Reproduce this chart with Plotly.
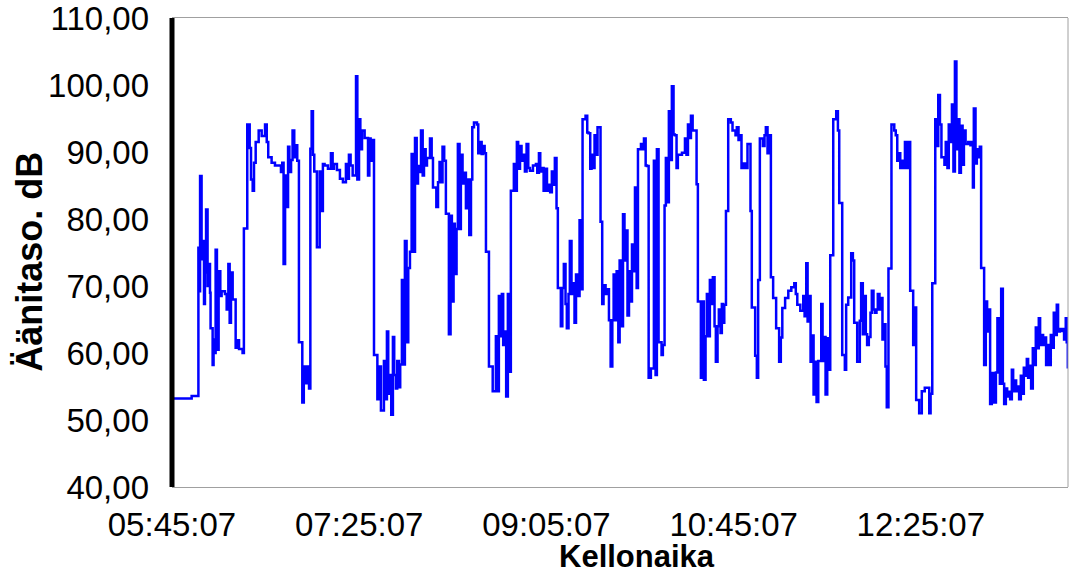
import pandas as pd
import plotly.graph_objects as go

# minutes after 05:45:07
minutes = [
    0, 10.5, 14.1, 14.6, 15.0, 15.8, 16.4, 17.1, 17.6, 18.2, 19.0, 19.6, 20.3, 20.6, 21.7, 22.2, 22.8, 23.3, 24.0, 24.9,
    25.8, 26.5, 28.3, 29.2, 30.1, 30.8, 31.5, 32.4, 34.0, 34.7, 35.8, 37.7, 38.4, 40.2, 41.5, 42.2, 43.1, 43.8, 44.7, 46.3,
    47.9, 49.7, 50.6, 51.4, 53.2, 55.0, 58.2, 58.9, 59.6, 60.4, 61.2, 62.0, 62.7, 63.6, 64.4, 65.3, 66.0, 66.9, 67.8, 69.6,
    70.4, 71.4, 72.3, 73.2, 73.9, 74.6, 75.3, 76.0, 77.4, 78.9, 79.9, 80.6, 81.5, 83.3, 84.9, 85.8, 86.5, 88.1, 89.7, 91.3,
    92.9, 93.6, 94.5, 95.4, 96.5, 98.3, 99.0, 99.9, 100.6, 101.5, 102.9, 104.7, 105.4, 106.1, 107.0, 107.9, 109.7, 110.5, 111.6, 113.2,
    113.9, 114.8, 115.5, 116.4, 117.1, 118.0, 118.7, 119.6, 120.3, 121.2, 121.9, 122.8, 123.5, 124.4, 125.3, 126.2, 127.1, 128.0, 128.9, 129.8,
    130.7, 131.4, 132.3, 133.0, 133.9, 134.6, 135.5, 136.2, 137.8, 138.7, 139.4, 141.2, 142.1, 142.9, 143.7, 144.5, 145.4, 146.3, 147.9, 148.8,
    149.5, 150.4, 151.1, 152.0, 152.7, 153.6, 154.3, 155.2, 156.1, 157.0, 157.9, 158.8, 159.7, 160.4, 161.3, 162.9, 163.6, 164.5, 165.4, 166.1,
    167.0, 167.7, 169.3, 171.3, 173.0, 173.9, 174.6, 175.5, 176.2, 176.9, 177.8, 178.5, 179.4, 180.2, 181.0, 182.6, 183.4, 184.2, 184.9, 185.9,
    186.7, 187.6, 188.5, 189.4, 190.3, 191.2, 192.8, 194.4, 195.1, 196.0, 196.7, 197.6, 198.5, 199.2, 200.3, 201.3, 202.0, 202.9, 203.8, 204.5,
    205.4, 206.1, 207.7, 208.5, 209.3, 210.2, 210.9, 211.8, 212.5, 213.4, 214.2, 215.0, 215.8, 216.8, 217.7, 218.4, 219.3, 220.9, 221.8, 222.5,
    223.4, 224.1, 225.0, 225.7, 226.6, 227.3, 228.9, 229.8, 230.5, 231.6, 232.7, 233.4, 234.3, 235.2, 235.9, 236.8, 237.5, 238.4, 239.1, 240.0,
    240.9, 241.7, 242.5, 243.3, 244.1, 245.0, 245.7, 246.5, 247.3, 248.2, 248.9, 250.5, 251.4, 252.1, 253.0, 253.7, 254.6, 255.8, 257.4, 258.3,
    259.0, 259.9, 261.5, 262.2, 263.1, 263.8, 264.7, 265.4, 266.3, 267.0, 267.9, 268.6, 269.5, 270.2, 272.4, 274.0, 274.8, 275.6, 276.4, 277.2,
    278.1, 280.2, 280.9, 282.5, 283.2, 284.1, 285.0, 285.7, 286.6, 287.3, 288.2, 288.9, 289.8, 290.5, 291.4, 292.1, 293.0, 293.7, 294.3, 295.0,
    295.9, 297.1, 298.5, 299.4, 301.0, 301.7, 302.6, 303.3, 304.2, 304.9, 306.2, 307.4, 309.0, 309.7, 311.5, 312.4, 313.1, 314.0, 315.6, 316.5,
    317.2, 318.1, 318.8, 319.9, 321.1, 322.7, 324.3, 325.2, 326.0, 327.5, 329.2, 330.8, 332.4, 333.2, 334.0, 335.6, 337.2, 337.9, 338.8, 339.5,
    340.4, 341.1, 342.0, 342.7, 343.6, 344.3, 345.2, 346.8, 347.5, 348.4, 349.1, 350.0, 350.7, 351.6, 353.2, 354.8, 355.7, 356.4, 358.0, 359.4,
    360.1, 361.2, 362.8, 363.7, 364.4, 366.0, 367.4, 368.1, 369.0, 369.7, 370.6, 371.3, 372.2, 373.1, 373.8, 374.7, 375.4, 376.3, 377.0, 377.9,
    378.6, 379.5, 380.2, 381.1, 381.8, 382.7, 384.3, 385.8, 386.6, 387.4, 388.2, 389.0, 389.9, 390.7, 391.5, 392.7, 393.6, 394.3, 395.9, 396.8,
    397.5, 399.1, 400.5, 402.1, 404.5, 405.2, 406.1, 407.7, 408.6, 409.3, 410.2, 411.0, 412.6, 413.3, 414.2, 414.9, 415.8, 416.6, 417.4, 418.2,
    419.0, 419.8, 420.6, 421.4, 422.3, 423.0, 423.9, 425.3, 426.5, 427.2, 427.8, 428.3, 429.2, 429.9, 430.8, 431.5, 432.2, 433.8, 434.7, 435.4,
    436.3, 437.0, 437.9, 438.8, 440.1, 440.9, 442.2, 442.9, 443.8, 444.5, 445.4, 446.1, 447.0, 447.7, 448.6, 449.3, 450.2, 450.9, 451.8, 452.5,
    453.4, 454.1, 455.0, 455.7, 456.6, 457.3, 458.2, 458.9, 459.8, 460.5, 461.4, 462.1, 463.0, 463.7, 464.6, 465.3, 466.2, 466.9, 467.8, 468.5,
    469.4, 470.1, 471.0, 471.7, 472.6, 473.3, 474.2, 474.9, 475.8, 476.5, 477.4, 477.9, 478.5,
]

db = [
    53.2, 53.6, 75.7, 69.2, 86.4, 74.0, 76.7, 67.3, 72.0, 81.4, 70.0, 73.3, 69.0, 63.7, 58.2, 62.0, 60.0, 75.4, 60.5, 72.2,
    68.5, 69.2, 68.8, 66.5, 73.3, 64.5, 72.0, 68.0, 60.8, 61.9, 60.6, 60.0, 78.6, 94.1, 90.6, 85.9, 84.2, 88.4, 91.5, 93.2,
    92.4, 94.1, 91.5, 89.2, 88.4, 88.0, 87.0, 88.4, 73.3, 86.5, 81.8, 90.8, 87.0, 88.8, 93.2, 89.2, 91.0, 88.7, 61.6, 52.6,
    58.0, 55.5, 58.0, 54.7, 90.5, 96.1, 89.6, 87.1, 75.8, 87.1, 81.2, 88.2, 88.0, 87.5, 89.8, 87.5, 88.2, 87.3, 86.0, 85.5,
    88.2, 86.0, 89.6, 88.0, 86.5, 101.3, 85.9, 94.9, 90.4, 93.2, 92.1, 86.5, 92.0, 88.7, 91.8, 59.7, 53.1, 58.0, 51.4, 58.8,
    53.1, 63.2, 53.9, 56.7, 50.8, 62.4, 56.7, 54.7, 58.8, 54.9, 58.3, 70.9, 58.3, 76.7, 61.6, 72.7, 75.1, 89.7, 75.1, 92.1,
    85.3, 87.9, 87.0, 93.2, 86.5, 90.4, 88.0, 89.1, 92.0, 89.1, 84.7, 81.8, 85.5, 88.5, 85.5, 90.8, 88.7, 80.8, 62.8, 80.5,
    67.7, 79.3, 71.8, 78.5, 91.2, 78.5, 89.6, 85.3, 86.9, 81.6, 85.9, 77.6, 85.9, 93.7, 94.4, 94.1, 89.8, 91.5, 89.7, 90.9,
    89.8, 75.1, 58.0, 54.3, 62.5, 54.3, 68.5, 62.5, 68.8, 61.2, 63.2, 53.5, 68.8, 57.2, 84.2, 88.2, 84.2, 91.5, 87.5, 90.9,
    88.7, 89.6, 87.1, 91.2, 87.6, 87.2, 88.0, 88.2, 86.9, 89.8, 87.1, 87.6, 84.2, 87.5, 84.2, 85.1, 84.0, 87.1, 85.1, 89.1,
    81.6, 69.7, 64.0, 69.7, 73.3, 67.3, 63.7, 68.8, 76.7, 68.8, 70.4, 64.5, 71.7, 68.5, 79.8, 69.5, 94.9, 95.4, 92.9, 92.8,
    87.5, 89.6, 87.6, 92.5, 89.6, 93.7, 79.6, 67.3, 70.1, 68.8, 69.5, 64.9, 58.0, 64.9, 71.7, 64.9, 72.2, 61.6, 73.8, 64.0,
    80.7, 73.8, 78.3, 65.6, 72.2, 67.7, 76.2, 72.2, 84.7, 69.7, 90.4, 91.2, 90.4, 92.0, 88.0, 87.9, 56.3, 57.7, 88.7, 56.7,
    90.4, 61.6, 59.7, 61.2, 82.0, 89.1, 82.5, 96.1, 88.8, 99.8, 92.6, 92.5, 87.6, 89.6, 89.9, 92.0, 89.6, 94.1, 92.1, 95.4,
    93.2, 85.2, 67.7, 56.3, 67.7, 56.0, 62.5, 68.8, 62.5, 70.9, 67.3, 71.3, 64.0, 58.7, 64.0, 66.5, 63.0, 67.3, 64.5, 67.2,
    81.2, 94.9, 94.4, 93.2, 92.5, 93.7, 91.8, 92.5, 87.6, 88.3, 87.6, 91.2, 81.2, 66.8, 59.6, 56.3, 70.9, 92.0, 90.9, 92.5,
    93.7, 89.8, 92.5, 71.3, 68.2, 63.7, 58.7, 62.3, 66.7, 68.2, 69.3, 69.8, 70.4, 68.8, 67.2, 66.3, 68.5, 65.5, 73.4, 64.7,
    68.5, 58.7, 62.6, 53.8, 58.7, 52.7, 58.8, 67.3, 58.8, 62.4, 53.8, 62.2, 57.5, 74.6, 94.9, 96.1, 93.2, 82.4, 59.7, 57.5,
    67.2, 68.3, 74.9, 73.8, 64.5, 58.7, 64.8, 70.4, 62.8, 68.5, 62.8, 61.2, 62.4, 66.0, 69.3, 66.5, 66.0, 66.5, 68.8, 66.5,
    68.2, 62.0, 64.3, 58.0, 51.9, 72.6, 94.1, 93.2, 92.5, 88.7, 89.8, 87.6, 88.7, 87.6, 91.5, 87.6, 91.5, 69.3, 61.2, 66.8,
    53.0, 51.0, 54.3, 54.8, 51.0, 53.9, 70.4, 94.9, 90.9, 98.5, 94.1, 89.2, 88.1, 91.5, 87.6, 94.1, 91.5, 97.1, 87.1, 103.5,
    90.4, 94.9, 86.9, 93.9, 88.1, 93.2, 91.2, 91.5, 91.0, 91.5, 84.7, 96.5, 88.3, 90.4, 89.2, 90.8, 72.7, 58.2, 67.7, 63.2,
    66.5, 52.4, 57.0, 52.6, 57.1, 65.2, 55.4, 69.6, 55.4, 52.4, 54.7, 53.5, 54.2, 53.1, 57.5, 54.3, 55.9, 54.3, 55.0, 53.1,
    56.6, 53.9, 57.8, 56.6, 59.1, 56.3, 58.1, 54.7, 60.7, 58.2, 63.8, 60.7, 65.2, 61.2, 62.7, 61.2, 62.3, 58.2, 61.2, 58.2,
    62.7, 60.8, 66.0, 62.7, 67.2, 63.2, 63.6, 63.3, 63.6, 62.0, 65.2, 61.6, 57.7,
]

start_time = "2000-01-01 05:45:07"
end_minutes = 478.6
x_tick_minutes = [0, 100, 200, 300, 400]
x_tick_labels = ["05:45:07", "07:25:07", "09:05:07", "10:45:07", "12:25:07"]
y_ticks = [40, 50, 60, 70, 80, 90, 100, 110]
y_tick_labels = ["40,00", "50,00", "60,00", "70,00", "80,00", "90,00", "100,00", "110,00"]
x_title = "Kellonaika"
y_title = "Äänitaso. dB"

base = pd.Timestamp(start_time)
times = base + pd.to_timedelta(minutes, unit="m")
tick_times = base + pd.to_timedelta(x_tick_minutes, unit="m")

FONT = "Liberation Sans, Arial, sans-serif"

fig = go.Figure()
fig.add_trace(go.Scatter(
    x=times, y=db, mode="lines",
    line=dict(color="#0000FF", width=2.5, shape="hv"),
    showlegend=False,
))

fig.update_layout(
    width=1069, height=574,
    margin=dict(l=172, r=1, t=18, b=87),
    paper_bgcolor="white", plot_bgcolor="white",
    font=dict(family=FONT, color="black"),
    xaxis=dict(
        type="date",
        range=[base, base + pd.Timedelta(minutes=end_minutes)],
        tickvals=list(tick_times), ticktext=x_tick_labels,
        showgrid=False, zeroline=False,
        showline=True, linecolor="#a0a0a0", linewidth=1, mirror=True,
        ticks="", tickfont=dict(size=33, family=FONT, color="black"),
        ticklabelstandoff=8,
    ),
    yaxis=dict(
        range=[40, 110],
        tickvals=y_ticks, ticktext=y_tick_labels,
        showgrid=False, zeroline=False,
        showline=False,
        ticks="", tickfont=dict(size=33, family=FONT, color="black"),
        ticklabelstandoff=22,
        ticklabeloverflow="allow",
    ),
    shapes=[
        dict(type="line", xref="paper", yref="paper", x0=1, x1=1, y0=0, y1=1,
             line=dict(color="#a0a0a0", width=1)),
        dict(type="line", xref="paper", yref="paper", x0=0, x1=0, y0=0, y1=1,
             line=dict(color="black", width=5)),
    ],
    annotations=[
        dict(text=x_title, xref="paper", yref="paper", x=0.519, y=-0.148,
             xanchor="center", yanchor="middle", showarrow=False,
             font=dict(size=31, family=FONT, weight="bold", color="black")),
        dict(text=y_title, xref="paper", yref="paper", x=-0.1585, y=0.48,
             xanchor="center", yanchor="middle", showarrow=False, textangle=-90,
             font=dict(size=36, family=FONT, weight="bold", color="black")),
    ],
)

fig.write_html("out.html")
